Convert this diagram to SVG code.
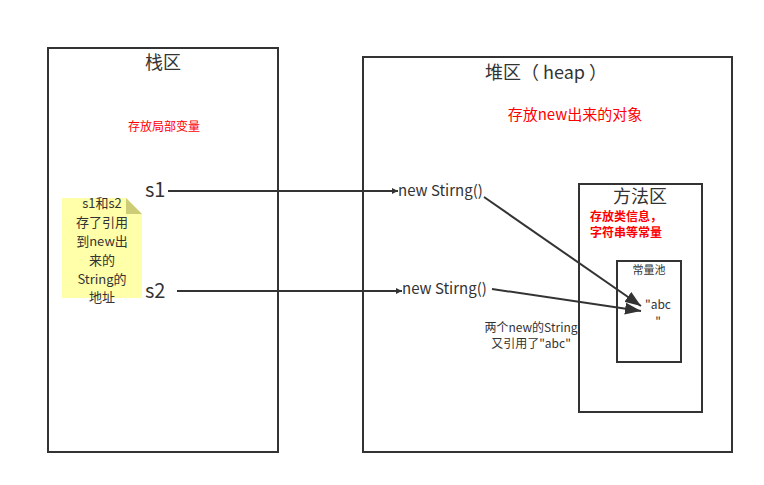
<svg xmlns="http://www.w3.org/2000/svg" width="764" height="485" viewBox="0 0 764 485">
<style>
text{font-family:"Noto Sans CJK SC","Liberation Sans",sans-serif;fill:#333}
.box{fill:none;stroke:#333;stroke-width:2}
.red{fill:#f00}
.c{text-anchor:middle}
.ln{stroke:#333;stroke-width:2;fill:none}
</style>
<defs>
<marker id="ah" viewBox="0 0 10 10" refX="10" refY="5" markerWidth="7" markerHeight="6" orient="auto" markerUnits="userSpaceOnUse">
<path d="M0,0 L10,5 L0,10 z" fill="#333"/>
</marker>
<marker id="ah2" viewBox="0 0 16 12" refX="16" refY="6" markerWidth="16" markerHeight="12" orient="auto" markerUnits="userSpaceOnUse">
<path d="M0,0 L16,6 L0,12 z" fill="#333"/>
</marker>
</defs>
<rect width="764" height="485" fill="#fff"/>
<g id="stack">
<rect class="box" x="48" y="48" width="230" height="404"/>
<text class="c" x="163" y="69" font-size="18">栈区</text>
<text class="c red" x="164" y="131" font-size="12">存放局部变量</text>
<text x="145" y="197" font-size="20" font-family="Liberation Sans">s1</text>
<text x="145" y="298" font-size="20" font-family="Liberation Sans">s2</text>
</g>
<g id="note">
<path d="M62,198 H126 L142,214 V298 H62 Z" fill="#ffffaa"/>
<path d="M126,198 L142,214 H126 Z" fill="#cccc77"/>
<text class="c" font-size="13" x="102"><tspan x="102" y="208">s1和s2</tspan><tspan x="102" y="227">存了引用</tspan><tspan x="102" y="246">到new出</tspan><tspan x="102" y="265">来的</tspan><tspan x="102" y="284">String的</tspan><tspan x="102" y="302">地址</tspan></text>
</g>
<g id="heap">
<rect class="box" x="363" y="57" width="369" height="395"/>
<text class="c" x="546" y="79" font-size="18">堆区（ heap ）</text>
<text class="c red" x="575" y="120" font-size="15">存放new出来的对象</text>
<text x="398" y="196" font-size="15">new Stirng()</text>
<text x="402" y="294" font-size="15">new Stirng()</text>
<text class="c" font-size="12"><tspan x="531" y="332">两个new的String</tspan><tspan x="531" y="348">又引用了"abc"</tspan></text>
</g>
<g id="method">
<rect class="box" x="579" y="184" width="123" height="228"/>
<text class="c" x="640" y="203" font-size="18">方法区</text>
<text class="red" font-size="12" font-weight="bold"><tspan x="590" y="221">存放类信息，</tspan><tspan x="590" y="237">字符串等常量</tspan></text>
</g>
<g id="pool">
<rect class="box" x="617" y="261" width="64" height="101"/>
<text class="c" x="649" y="274" font-size="11">常量池</text>
<text class="c" font-size="12" font-family="Liberation Sans"><tspan x="658" y="309">"abc</tspan><tspan x="658" y="326">"</tspan></text>
</g>
<g id="connectors">
<line class="ln" x1="168" y1="191" x2="398" y2="191" marker-end="url(#ah)"/>
<line class="ln" x1="177" y1="291" x2="402" y2="291" marker-end="url(#ah)"/>
<line class="ln" x1="484" y1="197" x2="641" y2="306" marker-end="url(#ah2)"/>
<line class="ln" x1="492" y1="289" x2="641" y2="311" marker-end="url(#ah2)"/>
</g>
</svg>
